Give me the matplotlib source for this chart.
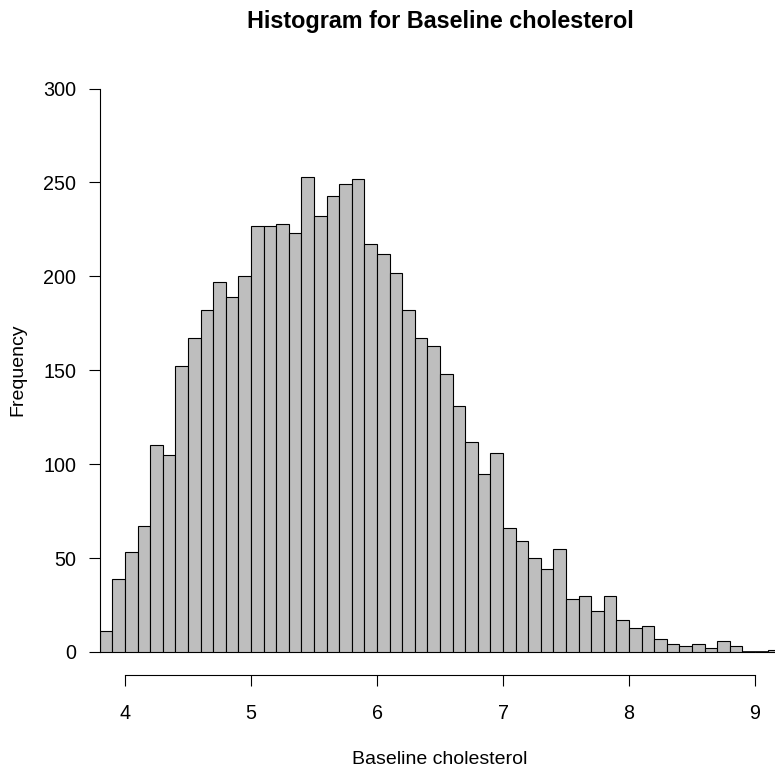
import matplotlib.pyplot as plt
import numpy as np

# bin edges start at 3.8, width 0.1; counts
bin_start = 3.8
bin_width = 0.1
counts = [11, 39, 53, 67, 110, 105, 152, 167, 182, 197,
          189, 200, 227, 227, 228, 223, 253, 232, 243, 249,
          252, 217, 212, 202, 182, 167, 163, 148, 131, 112,
          95, 106, 66, 59, 50, 44, 55, 28, 30, 22,
          30, 17, 13, 14, 7, 4, 3, 4, 2, 6,
          3, 0, 0, 1]
xticks = [4, 5, 6, 7, 8, 9]
yticks = [0, 50, 100, 150, 200, 250, 300]

plt.rcParams['font.family'] = ['Liberation Sans', 'DejaVu Sans']

fig = plt.figure(figsize=(7.75, 7.73), dpi=100)
ax = fig.add_axes([99.8/775, 98.5/773, 680.4/775, 608.5/773])

edges = bin_start + bin_width*np.arange(len(counts))
counts = np.array(counts)
ax.bar(edges, counts, width=bin_width, align='edge', color='#BEBEBE',
       edgecolor='black', linewidth=0.8)
# empty bins still show as a flat line, like R does
for e in edges[counts == 0]:
	ax.plot([e, e+bin_width], [0, 0], color='black', lw=1.2, solid_capstyle='butt')

ax.set_xlim(3.8, 9.2)
ax.set_ylim(-12, 312)
for s in ['top', 'right']:
	ax.spines[s].set_visible(False)
ax.spines['bottom'].set_bounds(4, 9)
ax.spines['left'].set_bounds(0, 300)
ax.spines['bottom'].set_linewidth(0.8)
ax.spines['left'].set_linewidth(0.8)
ax.set_xticks(xticks)
ax.set_yticks(yticks)
ax.tick_params(axis='x', length=8, width=0.8, pad=13, labelsize=14.2)
ax.tick_params(axis='y', length=8, width=0.8, pad=9, labelsize=14.2)

fig.text(440/775, 1-28.3/773, 'Histogram for Baseline cholesterol',
         ha='center', va='baseline', fontsize=16.8, fontweight='bold')
fig.text(440/775, 1-760/773, 'Baseline cholesterol', ha='center', va='center', fontsize=14)
fig.text(18/775, 1-370/773, 'Frequency', ha='center', va='center', rotation=90, fontsize=14)

fig.savefig('out.png', dpi=100)
